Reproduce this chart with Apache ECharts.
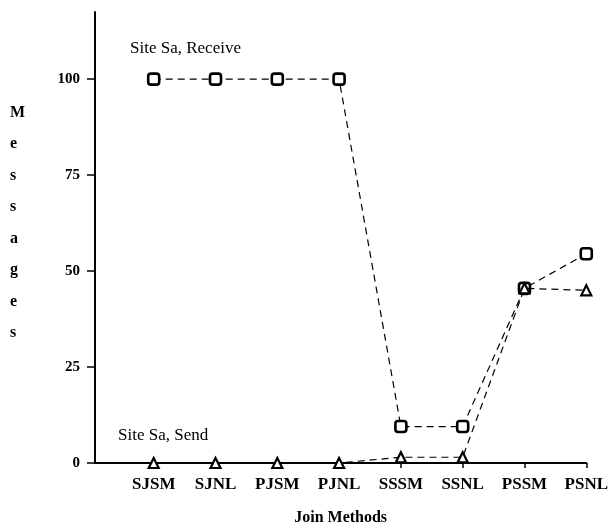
<!DOCTYPE html>
<html>
<head>
<meta charset="utf-8">
<script src="https://cdn.jsdelivr.net/npm/echarts@6/dist/echarts.min.js"></script>
<style>
  html, body { margin: 0; padding: 0; background: #fff; }
  #chart { width: 611px; height: 531px; }
</style>
</head>
<body>
<div id="chart"></div>
<script>
// Join methods along the horizontal axis
const methods = ['SJSM', 'SJNL', 'PJSM', 'PJNL', 'SSSM', 'SSNL', 'PSSM', 'PSNL'];
// Messages at site Sa
const receiveMsgs = [100, 100, 100, 100, 9.5, 9.5, 45.5, 54.5];
const sendMsgs = [0, 0, 0, 0, 1.5, 1.5, 45.5, 45];
const yTicks = [0, 25, 50, 75, 100];

const serif = '"Liberation Serif", "DejaVu Serif", serif';
const pts = arr => arr.map((v, i) => [i + 1, v]);

const chart = echarts.init(document.getElementById('chart'), null, { renderer: 'canvas' });
chart.setOption({
  animation: false,
  backgroundColor: '#fff',
  grid: { left: 95, right: 19, top: 12, bottom: 65, containLabel: false },
  xAxis: {
    type: 'value', min: 0.05, max: 8,
    name: 'Join Methods', nameLocation: 'middle', nameGap: 47,
    nameTextStyle: { fontFamily: serif, fontWeight: 'bold', fontSize: 16, color: '#000' },
    axisLine: { show: true, onZero: false, lineStyle: { color: '#000', width: 2 } },
    axisTick: { show: true, inside: false, length: 5, customValues: [1,2,3,4,5,6,7,8], lineStyle: { color: '#000', width: 1.5 } },
    axisLabel: {
      customValues: [1,2,3,4,5,6,7,8], margin: 13,
      fontFamily: serif, fontWeight: 'bold', fontSize: 17, color: '#000',
      formatter: v => methods[Math.round(v) - 1] || ''
    },
    splitLine: { show: false }
  },
  yAxis: {
    type: 'value', min: 0, max: 117.5,
    axisLine: { show: true, lineStyle: { color: '#000', width: 2 } },
    axisTick: { show: true, length: 8, customValues: yTicks, lineStyle: { color: '#000', width: 1.5 } },
    axisLabel: {
      customValues: yTicks, margin: 15,
      fontFamily: serif, fontWeight: 'bold', fontSize: 15, color: '#000'
    },
    splitLine: { show: false }
  },
  series: [
    {
      name: 'Site Sa, Receive', type: 'line', data: pts(receiveMsgs),
      symbol: 'roundRect', symbolSize: 11,
      itemStyle: { color: '#fff', borderColor: '#000', borderWidth: 2.6 },
      lineStyle: { color: '#000', width: 1.2, type: [7, 5] },
      z: 3
    },
    {
      name: 'Site Sa, Send', type: 'line', data: pts(sendMsgs),
      symbol: 'triangle', symbolSize: 10,
      itemStyle: { color: '#fff', borderColor: '#000', borderWidth: 2.2 },
      lineStyle: { color: '#000', width: 1.2, type: [7, 5] },
      z: 4
    }
  ],
  graphic: [
    { type: 'text', left: 130, top: 40,
      style: { text: 'Site Sa, Receive', font: '17px ' + serif, fill: '#000' } },
    { type: 'text', left: 118, top: 427,
      style: { text: 'Site Sa, Send', font: '17px ' + serif, fill: '#000' } },
    { type: 'text', left: 10, top: 97,
      style: { text: 'M\ne\ns\ns\na\ng\ne\ns', font: 'bold 16px ' + serif, fill: '#000',
               lineHeight: 31.5, align: 'center' } }
  ]
});
</script>
</body>
</html>
